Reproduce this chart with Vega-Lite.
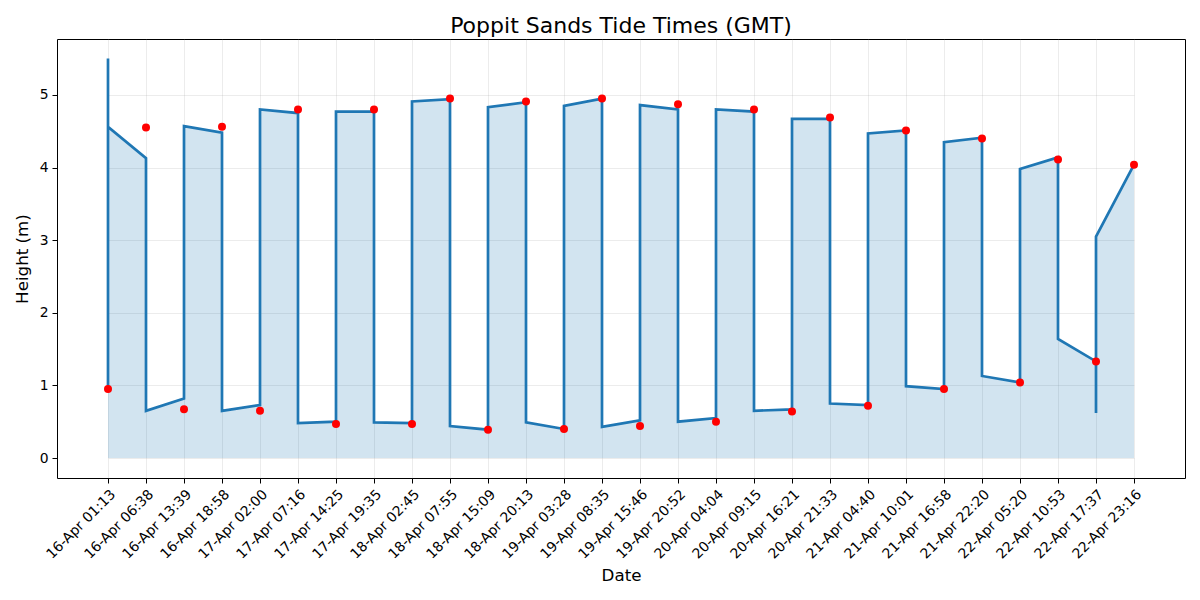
{
  "$schema": "https://vega.github.io/schema/vega-lite/v6.json",
  "width": 1128,
  "height": 439,
  "autosize": "none",
  "padding": {"left": 57, "top": 39, "right": 15, "bottom": 122},
  "background": "white",
  "title": {"text": "Poppit Sands Tide Times (GMT)", "font": "DejaVu Sans", "fontSize": 22, "fontWeight": "normal", "color": "black", "anchor": "middle", "offset": 1},
  "config": {
    "view": {"stroke": "black", "strokeWidth": 1},
    "axis": {
      "labelFont": "DejaVu Sans", "labelFontSize": 13.9, "labelColor": "black",
      "titleFont": "DejaVu Sans", "titleFontSize": 16.7, "titleFontWeight": "normal", "titleColor": "black",
      "tickColor": "black", "tickSize": 5, "tickWidth": 1, "domain": false,
      "gridColor": "#b0b0b0", "gridOpacity": 0.3, "gridWidth": 0.8, "labelPadding": 4
    }
  },
  "datasets": {
    "path": [
      {"i": 0, "t": "16-Apr 01:13", "h": 0.95},
      {"i": 1, "t": "16-Apr 01:13", "h": 5.50},
      {"i": 2, "t": "16-Apr 01:13", "h": 4.56},
      {"i": 3, "t": "16-Apr 06:38", "h": 4.13},
      {"i": 4, "t": "16-Apr 06:38", "h": 0.65},
      {"i": 5, "t": "16-Apr 13:39", "h": 0.82},
      {"i": 6, "t": "16-Apr 13:39", "h": 4.57},
      {"i": 7, "t": "16-Apr 18:58", "h": 4.48},
      {"i": 8, "t": "16-Apr 18:58", "h": 0.65},
      {"i": 9, "t": "17-Apr 02:00", "h": 0.73},
      {"i": 10, "t": "17-Apr 02:00", "h": 4.80},
      {"i": 11, "t": "17-Apr 07:16", "h": 4.75},
      {"i": 12, "t": "17-Apr 07:16", "h": 0.48},
      {"i": 13, "t": "17-Apr 14:25", "h": 0.50},
      {"i": 14, "t": "17-Apr 14:25", "h": 4.77},
      {"i": 15, "t": "17-Apr 19:35", "h": 4.77},
      {"i": 16, "t": "17-Apr 19:35", "h": 0.49},
      {"i": 17, "t": "18-Apr 02:45", "h": 0.48},
      {"i": 18, "t": "18-Apr 02:45", "h": 4.91},
      {"i": 19, "t": "18-Apr 07:55", "h": 4.94},
      {"i": 20, "t": "18-Apr 07:55", "h": 0.44},
      {"i": 21, "t": "18-Apr 15:09", "h": 0.39},
      {"i": 22, "t": "18-Apr 15:09", "h": 4.83},
      {"i": 23, "t": "18-Apr 20:13", "h": 4.90},
      {"i": 24, "t": "18-Apr 20:13", "h": 0.49},
      {"i": 25, "t": "19-Apr 03:28", "h": 0.40},
      {"i": 26, "t": "19-Apr 03:28", "h": 4.85},
      {"i": 27, "t": "19-Apr 08:35", "h": 4.95},
      {"i": 28, "t": "19-Apr 08:35", "h": 0.43},
      {"i": 29, "t": "19-Apr 15:46", "h": 0.52},
      {"i": 30, "t": "19-Apr 15:46", "h": 4.86},
      {"i": 31, "t": "19-Apr 20:52", "h": 4.80},
      {"i": 32, "t": "19-Apr 20:52", "h": 0.50},
      {"i": 33, "t": "20-Apr 04:04", "h": 0.55},
      {"i": 34, "t": "20-Apr 04:04", "h": 4.80},
      {"i": 35, "t": "20-Apr 09:15", "h": 4.77},
      {"i": 36, "t": "20-Apr 09:15", "h": 0.65},
      {"i": 37, "t": "20-Apr 16:21", "h": 0.67},
      {"i": 38, "t": "20-Apr 16:21", "h": 4.67},
      {"i": 39, "t": "20-Apr 21:33", "h": 4.67},
      {"i": 40, "t": "20-Apr 21:33", "h": 0.75},
      {"i": 41, "t": "21-Apr 04:40", "h": 0.73},
      {"i": 42, "t": "21-Apr 04:40", "h": 4.47},
      {"i": 43, "t": "21-Apr 10:01", "h": 4.51},
      {"i": 44, "t": "21-Apr 10:01", "h": 0.99},
      {"i": 45, "t": "21-Apr 16:58", "h": 0.95},
      {"i": 46, "t": "21-Apr 16:58", "h": 4.35},
      {"i": 47, "t": "21-Apr 22:20", "h": 4.41},
      {"i": 48, "t": "21-Apr 22:20", "h": 1.13},
      {"i": 49, "t": "22-Apr 05:20", "h": 1.04},
      {"i": 50, "t": "22-Apr 05:20", "h": 3.98},
      {"i": 51, "t": "22-Apr 10:53", "h": 4.14},
      {"i": 52, "t": "22-Apr 10:53", "h": 1.64},
      {"i": 53, "t": "22-Apr 17:37", "h": 1.33},
      {"i": 54, "t": "22-Apr 17:37", "h": 0.62},
      {"i": 55, "t": "22-Apr 17:37", "h": 3.05},
      {"i": 56, "t": "22-Apr 23:16", "h": 4.04}
    ],
    "tides": [
      {"t": "16-Apr 01:13", "h": 0.95},
      {"t": "16-Apr 06:38", "h": 4.55},
      {"t": "16-Apr 13:39", "h": 0.67},
      {"t": "16-Apr 18:58", "h": 4.56},
      {"t": "17-Apr 02:00", "h": 0.65},
      {"t": "17-Apr 07:16", "h": 4.80},
      {"t": "17-Apr 14:25", "h": 0.47},
      {"t": "17-Apr 19:35", "h": 4.80},
      {"t": "18-Apr 02:45", "h": 0.47},
      {"t": "18-Apr 07:55", "h": 4.95},
      {"t": "18-Apr 15:09", "h": 0.39},
      {"t": "18-Apr 20:13", "h": 4.91},
      {"t": "19-Apr 03:28", "h": 0.40},
      {"t": "19-Apr 08:35", "h": 4.95},
      {"t": "19-Apr 15:46", "h": 0.44},
      {"t": "19-Apr 20:52", "h": 4.87},
      {"t": "20-Apr 04:04", "h": 0.50},
      {"t": "20-Apr 09:15", "h": 4.80},
      {"t": "20-Apr 16:21", "h": 0.64},
      {"t": "20-Apr 21:33", "h": 4.69},
      {"t": "21-Apr 04:40", "h": 0.72},
      {"t": "21-Apr 10:01", "h": 4.51},
      {"t": "21-Apr 16:58", "h": 0.95},
      {"t": "21-Apr 22:20", "h": 4.40},
      {"t": "22-Apr 05:20", "h": 1.04},
      {"t": "22-Apr 10:53", "h": 4.11},
      {"t": "22-Apr 17:37", "h": 1.33},
      {"t": "22-Apr 23:16", "h": 4.04}
    ]
  },
  "encoding": {
    "x": {
      "field": "t", "type": "ordinal", "sort": null,
      "scale": {"type": "point", "range": [51, 1077], "padding": 0, "domain": ["16-Apr 01:13","16-Apr 06:38","16-Apr 13:39","16-Apr 18:58","17-Apr 02:00","17-Apr 07:16","17-Apr 14:25","17-Apr 19:35","18-Apr 02:45","18-Apr 07:55","18-Apr 15:09","18-Apr 20:13","19-Apr 03:28","19-Apr 08:35","19-Apr 15:46","19-Apr 20:52","20-Apr 04:04","20-Apr 09:15","20-Apr 16:21","20-Apr 21:33","21-Apr 04:40","21-Apr 10:01","21-Apr 16:58","21-Apr 22:20","22-Apr 05:20","22-Apr 10:53","22-Apr 17:37","22-Apr 23:16"]},
      "axis": {"title": "Date", "labelAngle": -45, "labelAlign": "right", "labelBaseline": "top", "labelDx": -6, "labelDy": -6, "grid": true, "titlePadding": 6}
    },
    "y": {
      "field": "h", "type": "quantitative",
      "scale": {"domain": [-0.275, 5.77], "nice": false, "zero": false},
      "axis": {"title": "Height (m)", "values": [0, 1, 2, 3, 4, 5], "grid": true, "titlePadding": 8}
    }
  },
  "layer": [
    {
      "data": {"name": "path"},
      "mark": {"type": "area", "orient": "vertical", "color": "#1f77b4", "opacity": 0.2, "order": null},
      "encoding": {
        "y": {"field": "h", "type": "quantitative", "stack": null},
        "y2": {"datum": 0}
      }
    },
    {
      "data": {"name": "path"},
      "mark": {"type": "line", "color": "#1f77b4", "strokeWidth": 2.7},
      "encoding": {
        "order": {"field": "i", "type": "quantitative"}
      }
    },
    {
      "data": {"name": "tides"},
      "mark": {"type": "circle", "color": "#ff0000", "opacity": 1, "size": 64},
      "encoding": {}
    }
  ]
}
